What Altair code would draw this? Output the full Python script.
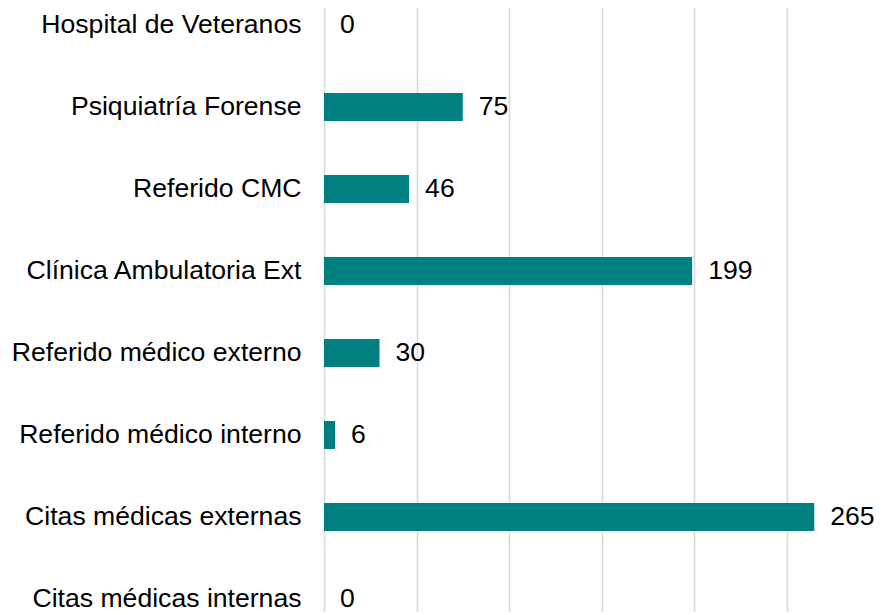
import altair as alt
import pandas as pd

categories = [
    "Hospital de Veteranos",
    "Psiquiatría Forense",
    "Referido CMC",
    "Clínica Ambulatoria Ext",
    "Referido médico externo",
    "Referido médico interno",
    "Citas médicas externas",
    "Citas médicas internas",
]
values = [0, 75, 46, 199, 30, 6, 265, 0]
grid_values = [0, 50, 100, 150, 200, 250, 300]

df = pd.DataFrame({"cat": categories, "val": values})

FONT = "Liberation Sans"
FS = 26.6

y_enc = alt.Y(
    "cat:N",
    sort=categories,
    title=None,
    scale=alt.Scale(paddingInner=0.659, paddingOuter=0.0366, range=[0, 608]),
    axis=alt.Axis(
        labelFont=FONT,
        labelFontSize=FS,
        labelColor="#000000",
        labelPadding=23,
        ticks=False,
        tickSize=0,
        domain=False,
        grid=False,
        labelLimit=0,
    ),
)
x_enc = alt.X(
    "val:Q",
    title=None,
    scale=alt.Scale(domain=[0, 300], nice=False, range=[0, 555]),
    axis=alt.Axis(
        values=grid_values,
        labels=False,
        ticks=False,
        domain=False,
        grid=True,
        gridColor="#d9d9d9",
        gridWidth=1.6,
    ),
)

bars = alt.Chart(df).mark_bar(color="#008080").encode(x=x_enc, y=y_enc)
text = alt.Chart(df).mark_text(
    align="left", baseline="middle", dx=16, font=FONT, fontSize=FS, color="#000000"
).encode(x="val:Q", y=alt.Y("cat:N", sort=categories), text="val:Q")

chart = (
    alt.layer(bars, text)
    .properties(
        width=550,
        height=604,
        padding={"left": 316, "top": 0, "right": 0, "bottom": 0},
        autosize=alt.AutoSizeParams(type="none"),
    )
    .configure_view(stroke=None)
)

chart.save("out.html", embed_options={"renderer": "svg", "actions": False})
